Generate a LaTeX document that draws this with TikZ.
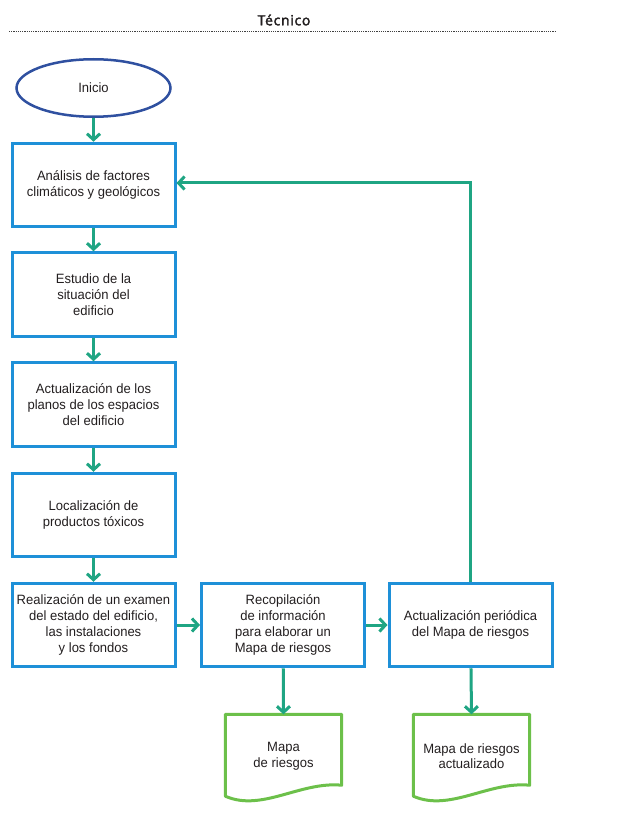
\documentclass[tikz,border=0pt]{standalone}
\usepackage{fontspec}
\setmainfont{Liberation Sans}[FakeStretch=0.965]
\newfontfamily\titlefont{Open Sans}[FakeBold=2.5, LetterSpace=5]
\usetikzlibrary{arrows.meta,shapes.geometric,calc}
\definecolor{boxblue}{HTML}{1E90D8}
\definecolor{ellblue}{HTML}{2F50A0}
\definecolor{arrgreen}{HTML}{1FA583}
\definecolor{docgreen}{HTML}{6CC04A}
\definecolor{txt}{HTML}{231F20}
\tikzset{
  bodyfont/.style={font=\fontsize{13.5}{15.8}\selectfont, text=txt},
  stepbox/.style={bodyfont, draw=boxblue, line width=3pt, fill=white,
    minimum width=163, minimum height=83.5, align=center, inner sep=2pt},
  startell/.style={bodyfont, ellipse, draw=ellblue, line width=2.5pt,
    minimum width=154, minimum height=57.5, inner sep=0pt},
  docnode/.style={bodyfont, minimum width=116, minimum height=83.5,
    align=center, inner sep=0pt},
  docline/.style={draw=docgreen, line width=3pt, line join=round},
  flow/.style={draw=arrgreen, line width=3pt,
    -{Straight Barb[length=6pt,width=13pt]}},
  dotline/.style={draw=black!75, line width=0.8pt, dash pattern=on 1.2pt off 1pt},
}
\begin{document}
\begin{tikzpicture}[x=1pt,y=-1pt]
\useasboundingbox (0,0) rectangle (619,813);
% header
\node[text=txt, inner sep=0pt] (title) at (284,20) {\titlefont\fontsize{14}{16}\selectfont Técnico};
\coordinate (hl) at (9,31.5);
\coordinate (hr) at (556,31.5);
\draw[dotline] (hl) -- (hr);
% nodes
\node[startell] (start) at (93.5,88) {Inicio};
\node[stepbox] (b1) at (93.5,185) {Análisis de factores\\climáticos y geológicos};
\node[stepbox] (b2) at (93.5,294.5) {Estudio de la\\situación del\\edificio};
\node[stepbox] (b3) at (93.5,404.5) {Actualización de los\\planos de los espacios\\del edificio};
\node[stepbox] (b4) at (93.5,515) {Localización de\\productos tóxicos};
\node[stepbox] (b5) at (93.5,625) {Realización de un examen\\del estado del edificio,\\las instalaciones\\y los fondos};
\node[stepbox] (b6) at (283,625) {Recopilación\\de información\\para elaborar un\\Mapa de riesgos};
\node[stepbox] (b7) at (470.5,625) {Actualización periódica\\del Mapa de riesgos};
\node[docnode] (d1) at (283.5,756.25) {Mapa\\de riesgos};
\node[docnode] (d2) at (471.5,756.25) {Mapa de riesgos\\actualizado};
% document shapes
\foreach \d in {d1,d2}{
  \draw[docline] (\d.north west) -- (\d.north east) -- ($(\d.south east)+(0,-13)$)
    .. controls ($(\d.south east)+(-41.5,-17)$) and ($(\d.south west)+(36.5,14)$) ..
    ($(\d.south west)+(0,-2)$) -- cycle;
}
% connectors
\draw[flow] (start) -- (b1);
\draw[flow] (b1) -- (b2);
\draw[flow] (b2) -- (b3);
\draw[flow] (b3) -- (b4);
\draw[flow] (b4) -- (b5);
\draw[flow] (b5) -- (b6);
\draw[flow] (b6) -- (b7);
\draw[flow] (b6) -- (d1.north);
\draw[flow] (b7) -- (d2.north);
\draw[flow] (b7.north) |- ([yshift=2pt]b1.east);
\end{tikzpicture}
\end{document}
